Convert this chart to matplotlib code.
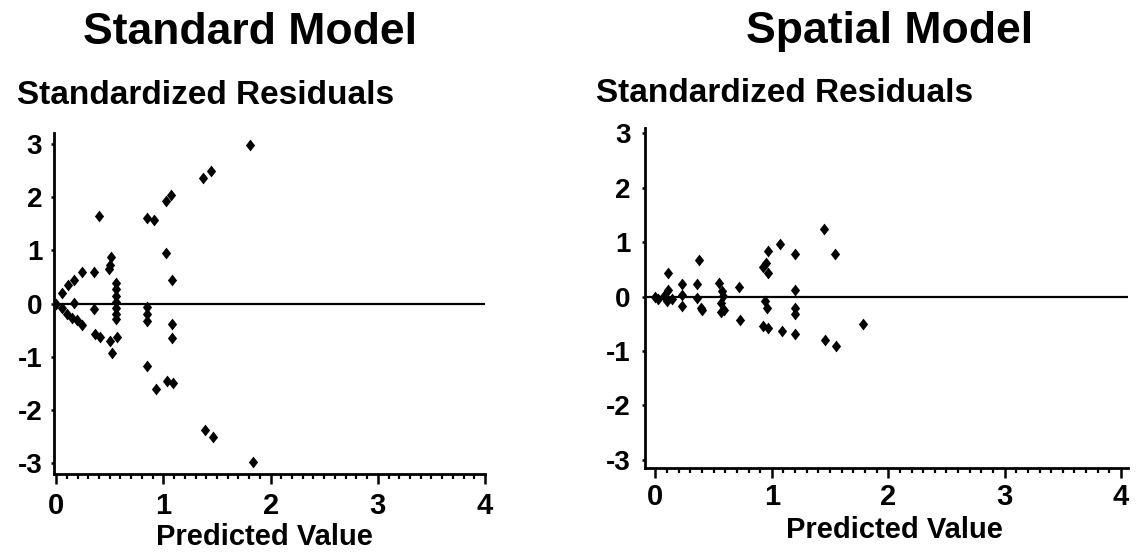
import matplotlib
matplotlib.use("Agg")
import matplotlib.pyplot as plt
from matplotlib.ticker import MultipleLocator

plt.rcParams['font.family'] = ['Liberation Sans', 'DejaVu Sans']
plt.rcParams['font.weight'] = 'bold'
plt.rcParams['axes.unicode_minus'] = False

# Standard model: predicted value vs standardized residual
std_x = [0.00, 0.05, 0.115, 0.17, 0.24, 0.35, 0.49, 0.50, 0.51,
         0.05, 0.10, 0.15, 0.19, 0.24, 0.17, 0.35,
         0.36, 0.41, 0.50, 0.57, 0.52,
         0.56, 0.56, 0.56, 0.56, 0.56, 0.56, 0.56,
         0.40, 0.85, 0.85, 0.85, 0.85, 0.85, 0.91, 0.93,
         1.02, 1.02, 1.07, 1.08, 1.08, 1.08, 1.03, 1.09,
         1.37, 1.44, 1.39, 1.46, 1.81, 1.84]
std_y = [0.00, 0.19, 0.34, 0.44, 0.59, 0.60, 0.64, 0.73, 0.88,
         -0.09, -0.19, -0.27, -0.31, -0.40, 0.01, -0.11,
         -0.57, -0.62, -0.70, -0.63, -0.93,
         0.38, 0.27, 0.15, 0.02, -0.08, -0.19, -0.30,
         1.64, -0.06, -0.19, -0.32, -1.18, 1.61, 1.56, -1.61,
         0.95, 1.92, 2.03, 0.45, -0.39, -0.65, -1.46, -1.49,
         2.36, 2.48, -2.37, -2.50, 2.98, -2.98]

# Spatial model
sp_x = [0.00, 0.02, 0.07, 0.10, 0.11, 0.14, 0.11,
        0.23, 0.23, 0.23,
        0.37, 0.36, 0.36, 0.39, 0.40,
        0.55, 0.57, 0.58, 0.56, 0.59, 0.56,
        0.72, 0.73,
        0.92, 0.95, 0.97, 0.97, 0.94, 0.96, 0.92, 0.97,
        1.07, 1.09,
        1.20, 1.20, 1.20, 1.20, 1.20,
        1.45, 1.46, 1.54, 1.55, 1.78]
sp_y = [0.00, -0.04, 0.01, -0.08, 0.13, -0.04, 0.43,
        0.24, 0.03, -0.17,
        0.67, 0.24, -0.02, -0.20, -0.25,
        0.25, 0.11, 0.02, -0.12, -0.25, -0.29,
        0.18, -0.43,
        0.54, 0.62, 0.43, 0.83, -0.08, -0.20, -0.54, -0.58,
        0.96, -0.63,
        0.79, 0.12, -0.20, -0.32, -0.69,
        1.24, -0.79, 0.79, -0.90, -0.50]

x_ticks = [0, 1, 2, 3, 4]
y_ticks = [-3, -2, -1, 0, 1, 2, 3]

W, H = 1136, 553
diamond = [(0, 1), (0.78, 0), (0, -1), (-0.78, 0), (0, 1)]

fig = plt.figure(figsize=(W / 100, H / 100), dpi=100)


def px_axes(left, top, right, bottom):
    return fig.add_axes([left / W, 1 - bottom / H, (right - left) / W, (bottom - top) / H])


def style_axes(ax, xlim, ylim, xpad, ypad):
    ax.set_xlim(*xlim)
    ax.set_ylim(*ylim)
    for side in ['top', 'right']:
        ax.spines[side].set_visible(False)
    for side in ['left', 'bottom']:
        ax.spines[side].set_linewidth(2.0)
    ax.axhline(0, color='black', lw=1.6, zorder=1)
    ax.set_xticks(x_ticks)
    ax.set_yticks(y_ticks)
    ax.xaxis.set_minor_locator(MultipleLocator(0.1))
    ax.tick_params(axis='x', which='major', direction='out', length=7, width=1.8,
                   labelsize=21, pad=xpad)
    ax.tick_params(axis='x', which='minor', direction='out', length=3.5, width=1.6)
    ax.tick_params(axis='y', which='major', direction='out', length=2.5, width=1.8,
                   labelsize=20, pad=ypad)
    for lab in ax.get_xticklabels() + ax.get_yticklabels():
        lab.set_fontweight('bold')


ax1 = px_axes(54, 133, 485, 474)
ax1.scatter(std_x, std_y, marker=diamond, s=8.5 ** 2, color='black', lw=0, zorder=3)
style_axes(ax1, (-0.02, 4.0), (-3.2, 3.2), 6, 6)

ax2 = px_axes(645, 128, 1128, 468)
ax2.scatter(sp_x, sp_y, marker=diamond, s=8.5 ** 2, color='black', lw=0, zorder=3)
style_axes(ax2, (-0.09, 4.06), (-3.15, 3.1), 4, 8)

fig.text(250 / W, 1 - 32 / H, 'Standard Model', ha='center', va='center',
         fontsize=32, fontweight='bold')
fig.text(890 / W, 1 - 32 / H, 'Spatial Model', ha='center', va='center',
         fontsize=32, fontweight='bold')
fig.text(17 / W, 1 - 96 / H, 'Standardized Residuals', ha='left', va='center',
         fontsize=24, fontweight='bold')
fig.text(596 / W, 1 - 93 / H, 'Standardized Residuals', ha='left', va='center',
         fontsize=24, fontweight='bold')
fig.text(264 / W, 1 - 537 / H, 'Predicted Value', ha='center', va='center',
         fontsize=21, fontweight='bold')
fig.text(894 / W, 1 - 530 / H, 'Predicted Value', ha='center', va='center',
         fontsize=21, fontweight='bold')

fig.savefig('out.png', dpi=100)
